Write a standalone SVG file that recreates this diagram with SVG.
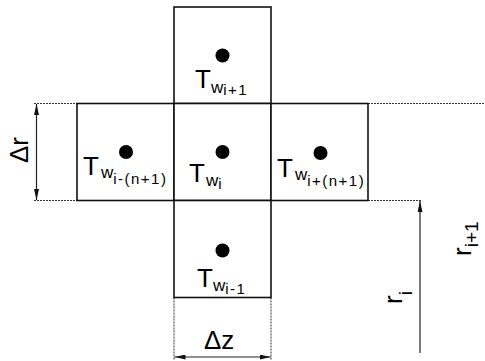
<svg xmlns="http://www.w3.org/2000/svg" width="485" height="361" viewBox="0 0 485 361">
<style>
  .cell { fill: #fff; stroke: #111; stroke-width: 1.6; }
  .dot { fill: #000; }
  .T { font-family: "Liberation Sans", Arial, sans-serif; font-size: 26px; fill: #000; }
  .w { font-size: 17px; }
  .s { font-size: 15px; letter-spacing: 1.5px; }
  .dim { stroke: #222; stroke-width: 1.2; fill: none; }
  .ext { stroke: #333; stroke-width: 1; fill: none; stroke-dasharray: 2 1; }
  .lbl { font-family: "Liberation Sans", Arial, sans-serif; font-size: 26px; fill: #000; }
  .lsub { font-size: 19px; }
</style>
<defs>
  <marker id="arr" markerUnits="userSpaceOnUse" markerWidth="11" markerHeight="5" refX="11" refY="2.5" orient="auto-start-reverse">
    <path d="M0,0 L11,2.5 L0,5 z" fill="#111"/>
  </marker>
</defs>
<rect width="485" height="361" fill="#fff"/>

<g id="connectors">
  <!-- delta r -->
  <line class="ext" x1="34" y1="103.5" x2="77" y2="103.5"/>
  <line class="ext" x1="34" y1="200.5" x2="77" y2="200.5"/>
  <line class="dim" x1="36.5" y1="104" x2="36.5" y2="200" marker-start="url(#arr)" marker-end="url(#arr)"/>
  <!-- delta z -->
  <line class="ext" x1="174" y1="297.5" x2="174" y2="360"/>
  <line class="ext" x1="271" y1="297.5" x2="271" y2="360"/>
  <line class="dim" x1="174.5" y1="357" x2="270.5" y2="357" marker-start="url(#arr)" marker-end="url(#arr)"/>
  <!-- r_i / r_i+1 -->
  <line class="ext" x1="368" y1="103.5" x2="485" y2="103.5"/>
  <line class="ext" x1="368" y1="200.5" x2="421" y2="200.5"/>
  <line class="dim" x1="420" y1="353" x2="420" y2="201" marker-end="url(#arr)"/>
</g>

<g id="cell-top">
  <rect class="cell" x="174" y="7" width="97" height="96.5"/>
  <circle class="dot" cx="222.5" cy="55.5" r="7"/>
  <text class="T" x="195" y="88">T<tspan class="w" dy="5">w</tspan><tspan class="s" dy="2">i+1</tspan></text>
</g>

<g id="cell-left">
  <rect class="cell" x="77" y="103.5" width="97" height="97"/>
  <circle class="dot" cx="126" cy="152" r="7"/>
  <text class="T" x="83" y="175">T<tspan class="w" dx="2" dy="3">w</tspan><tspan class="s" dy="6">i-(n+1)</tspan></text>
</g>

<g id="cell-center">
  <rect class="cell" x="174" y="103.5" width="97" height="97"/>
  <circle class="dot" cx="222.5" cy="152" r="7"/>
  <text class="T" x="189" y="182">T<tspan class="w" dx="1" dy="4">w</tspan><tspan class="s" dy="3">i</tspan></text>
</g>

<g id="cell-right">
  <rect class="cell" x="271" y="103.5" width="97" height="97"/>
  <circle class="dot" cx="320.5" cy="153" r="7"/>
  <text class="T" x="277" y="177">T<tspan class="w" dx="2" dy="3">w</tspan><tspan class="s" dy="6">i+(n+1)</tspan></text>
</g>

<g id="cell-bottom">
  <rect class="cell" x="174" y="200.5" width="97" height="97"/>
  <circle class="dot" cx="222.5" cy="250.5" r="7"/>
  <text class="T" x="197" y="287">T<tspan class="w" dy="4">w</tspan><tspan class="s" dy="3">i-1</tspan></text>
</g>

<g id="labels">
  <text class="lbl" transform="translate(28,163) rotate(-90)">Δr</text>
  <text class="lbl" x="204" y="349" font-size="24">Δz</text>
  <text class="lbl" transform="translate(402,304) rotate(-90)">r<tspan class="lsub" dy="10">i</tspan></text>
  <text class="lbl" transform="translate(471,256) rotate(-90)">r<tspan class="lsub" dy="7">i+1</tspan></text>
</g>
</svg>
